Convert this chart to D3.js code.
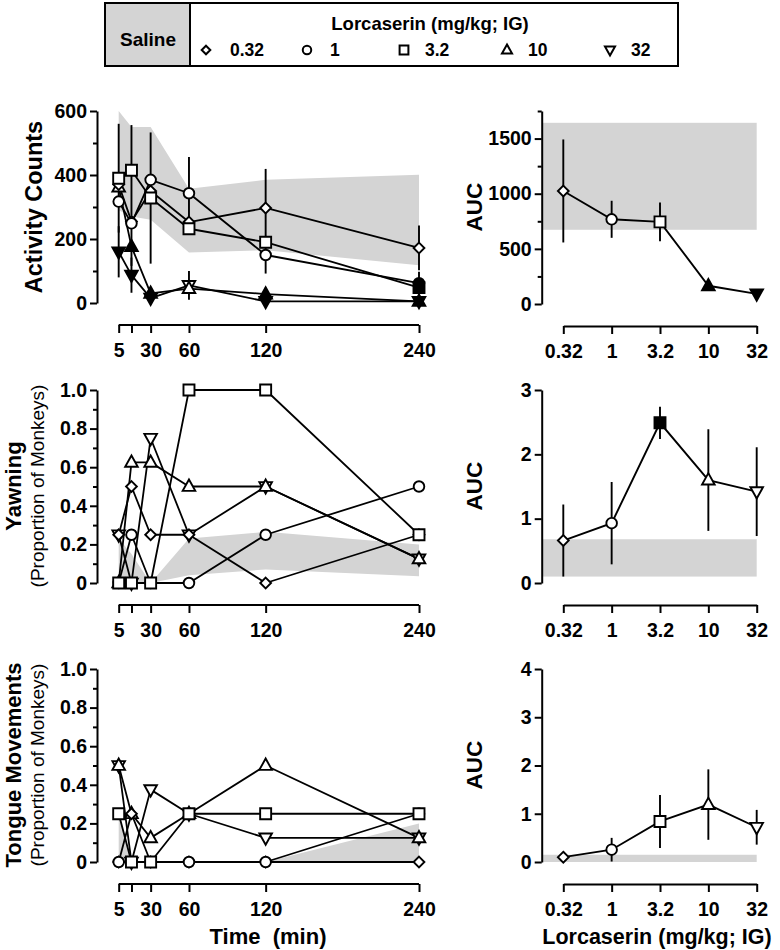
<!DOCTYPE html>
<html><head><meta charset="utf-8">
<script src="https://cdn.jsdelivr.net/npm/d3@7"></script>
<style>body{margin:0;background:#fff} svg{display:block}</style>
</head><body><svg id="c" width="780" height="950"></svg>
<script>
// ---------- DATA ----------
const times = [5, 15, 30, 60, 120, 240];
const timeTickLabels = ["5", "", "30", "60", "120", "240"];
const doses = ["0.32", "1", "3.2", "10", "32"];
const doseShapes = ["diamond", "circle", "square", "triangle", "triangleDown"];

// Activity counts (time course), per dose
const act_0_32 = [370, 255, 350, 253, 297, 172];
const act_1    = [317, 249, 385, 343, 150, 62];
const act_3_2  = [390, 415, 328, 232, 190, 48];
const act_10   = [362, 176, 30, 45, 28, 5];
const act_32   = [160, 87, 15, 55, 5, 5];
const actErr_0_32 = [0, 0, 0, 0, 122, 70];
const actErr_1    = [0, 0, 0, 113, 58, 0];
const actErr_3_2  = [170, 141, 205, 0, 0, 50];
const actErr_10   = [0, 60, 0, 0, 20, 0];
const actErr_32   = [80, 55, 0, 45, 0, 0];
const actFill_0_32 = [0, 0, 0, 0, 0, 0];
const actFill_1    = [0, 0, 0, 0, 0, 1];
const actFill_3_2  = [0, 0, 0, 0, 0, 1];
const actFill_10   = [0, 1, 1, 0, 1, 1];
const actFill_32   = [1, 1, 1, 0, 1, 1];
const salineActUpper = [600, 550, 550, 357, 385, 401];
const salineActLower = [290, 270, 260, 158, 165, 118];

// Yawning (proportion of monkeys)
const yawn_0_32 = [0.25, 0.5, 0.25, 0.25, 0, 0.25];
const yawn_1    = [0, 0.25, 0, 0, 0.25, 0.5];
const yawn_3_2  = [0, 0, 0, 1, 1, 0.25];
const yawn_10   = [0, 0.625, 0.625, 0.5, 0.5, 0.125];
const yawn_32   = [0.25, 0, 0.75, 0.25, 0.5, 0.125];
const salineYawnUpper = [0.23, 0.15, 0, 0.23, 0.265, 0.2];
const salineYawnLower = [0, 0, 0, 0.04, 0.07, 0.035];

// Tongue movements (proportion of monkeys)
const tong_0_32 = [0, 0.25, 0, 0, 0, 0];
const tong_1    = [0, 0, 0, 0, 0, 0.25];
const tong_3_2  = [0.25, 0, 0, 0.25, 0.25, 0.25];
const tong_10   = [0.5, 0.25, 0.125, 0.25, 0.5, 0.125];
const tong_32   = [0.5, 0, 0.375, 0.25, 0.125, 0.125];
const salineTongUpper = [0.26, 0, 0, 0, 0, 0.2];
const salineTongLower = [0.02, 0, 0, 0, 0, 0];

// AUC (dose-response)
const aucAct      = [1025, 768, 745, 165, 92];
const aucActErr   = [467, 168, 176, 45, 0];
const aucActFill  = [0, 0, 0, 1, 1];
const salineAucAct = [673, 1643];

const aucYawn     = [0.66, 0.93, 2.49, 1.6, 1.42];
const aucYawnErr  = [0.56, 0.64, 0.25, 0.79, 0.69];
const aucYawnFill = [0, 0, 1, 0, 0];
const salineAucYawn = [0.1, 0.68];

const aucTong     = [0.1, 0.255, 0.84, 1.19, 0.72];
const aucTongErr  = [0, 0.245, 0.55, 0.73, 0.36];
const aucTongFill = [0, 0, 0, 0, 0];
const salineAucTong = [0, 0.15];

// ---------- DRAWING ----------
const FONT = '"Liberation Sans", Arial, Helvetica, sans-serif';
const GRAY = "#d4d4d4";
const svg = d3.select("#c").style("font-family", FONT);

function markerPath(shape, k) {
  k = k || 1;
  if (shape === "circle") { const r = 5.3 * k; return `M${-r},0a${r},${r} 0 1,0 ${2*r},0a${r},${r} 0 1,0 ${-2*r},0Z`; }
  if (shape === "square") { const h = 5.5 * k; return `M${-h},${-h}H${h}V${h}H${-h}Z`; }
  if (shape === "diamond") { const d = 5.4 * k; return `M0,${-d}L${d},0L0,${d}L${-d},0Z`; }
  if (shape === "triangle") { const t = 6.3 * k; return `M0,${-t*1.1}L${t},${t*0.7}L${-t},${t*0.7}Z`; }
  if (shape === "triangleDown") { const t = 6.3 * k; return `M0,${t*1.1}L${t},${-t*0.7}L${-t},${-t*0.7}Z`; }
}

const leftAxisX = 97, rightAxisX = 541.7;
const xTime = d3.scaleLinear([0, 240], [112.3, 419]);
const xDose = d3.scalePoint(doses, [563.3, 756.7]);

function styleAxis(g, fs) {
  g.selectAll("path.domain").attr("stroke", "#000").attr("stroke-width", 2);
  g.selectAll(".tick line").attr("stroke", "#000").attr("stroke-width", 2);
  g.selectAll(".tick text").attr("fill", "#000").attr("font-size", fs || 19.5)
    .attr("font-weight", "bold").attr("font-family", FONT);
  g.attr("font-family", FONT);
}

function yAxes(x, y, majors, minors, fmt) {
  const g = svg.append("g").attr("transform", `translate(${x},0)`)
    .call(d3.axisLeft(y).tickValues(majors).tickSize(7).tickSizeOuter(0).tickPadding(3).tickFormat(fmt));
  styleAxis(g);
  if (minors && minors.length) {
    const gm = svg.append("g").attr("transform", `translate(${x},0)`)
      .call(d3.axisLeft(y).tickValues(minors).tickSize(4).tickSizeOuter(0).tickFormat(""));
    gm.select("path.domain").remove();
    styleAxis(gm);
  }
}

function drawLeft(cfg) {
  const y = cfg.y;
  const bottom = y.range()[0];
  const band = times.map((t, i) => ({ t, lo: cfg.lower[i], hi: cfg.upper[i] }));
  svg.append("path").datum(band).attr("fill", GRAY)
    .attr("d", d3.area().x(d => xTime(d.t)).y0(d => y(d.lo)).y1(d => y(d.hi)));
  yAxes(leftAxisX, y, cfg.majors, cfg.minors, cfg.fmt);
  const axY = bottom + 22;
  const gx = svg.append("g").attr("transform", `translate(0,${axY})`)
    .call(d3.axisBottom(xTime).tickValues(times).tickSize(8).tickSizeOuter(0).tickPadding(10)
      .tickFormat((d, i) => timeTickLabels[i]));
  gx.select("path.domain").remove();
  styleAxis(gx);
  gx.append("line").attr("x1", xTime(times[0])).attr("x2", xTime(times[times.length - 1]))
    .attr("y1", 0).attr("y2", 0).attr("stroke", "#000").attr("stroke-width", 2);

  const series = cfg.series.map((vals, si) => ({
    shape: doseShapes[si],
    pts: times.map((t, i) => ({ t, v: vals[i], e: cfg.errs ? cfg.errs[si][i] : 0, f: cfg.fills ? cfg.fills[si][i] : 0 }))
  }));
  const line = d3.line().x(d => xTime(d.t)).y(d => y(d.v));
  series.forEach(s => {
    svg.append("path").datum(s.pts).attr("fill", "none").attr("stroke", "#000")
      .attr("stroke-width", 1.8).attr("stroke-linejoin", "round").attr("d", line);
  });
  series.forEach(s => {
    s.pts.filter(d => d.e > 0).forEach(d => {
      svg.append("line").attr("x1", xTime(d.t)).attr("x2", xTime(d.t))
        .attr("y1", y(Math.max(0, d.v - d.e))).attr("y2", y(d.v + d.e))
        .attr("stroke", "#000").attr("stroke-width", 1.9);
    });
  });
  const order = [4, 3, 0, 1, 2];
  order.forEach(si => {
    const s = series[si];
    svg.append("g").selectAll("path").data(s.pts).join("path")
      .attr("transform", d => `translate(${xTime(d.t)},${y(d.v)})`)
      .attr("d", markerPath(s.shape))
      .attr("fill", d => d.f ? "#000" : "#fff")
      .attr("stroke", "#000").attr("stroke-width", 1.9).attr("stroke-linejoin", "miter");
  });
}

function drawRight(cfg) {
  const y = cfg.y;
  const bottom = y.range()[0];
  svg.append("rect").attr("x", rightAxisX + 1).attr("width", xDose("32") - rightAxisX - 1)
    .attr("y", y(cfg.band[1])).attr("height", y(cfg.band[0]) - y(cfg.band[1])).attr("fill", GRAY);
  yAxes(rightAxisX, y, cfg.majors, cfg.minors, cfg.fmt);
  const axY = bottom + 22;
  const gx = svg.append("g").attr("transform", `translate(0,${axY})`)
    .call(d3.axisBottom(xDose).tickSize(8).tickSizeOuter(0).tickPadding(10));
  styleAxis(gx);
  const pts = doses.map((d, i) => ({ d, v: cfg.vals[i], e: cfg.errs[i], f: cfg.fills[i], shape: doseShapes[i] }));
  svg.append("path").datum(pts).attr("fill", "none").attr("stroke", "#000").attr("stroke-width", 1.9)
    .attr("d", d3.line().x(d => xDose(d.d)).y(d => y(d.v)));
  pts.filter(d => d.e > 0).forEach(d => {
    svg.append("line").attr("x1", xDose(d.d)).attr("x2", xDose(d.d))
      .attr("y1", y(Math.max(0, d.v - d.e))).attr("y2", y(d.v + d.e))
      .attr("stroke", "#000").attr("stroke-width", 1.9);
  });
  svg.append("g").selectAll("path").data(pts).join("path")
    .attr("transform", d => `translate(${xDose(d.d)},${y(d.v)})`)
    .attr("d", d => markerPath(d.shape))
    .attr("fill", d => d.f ? "#000" : "#fff")
    .attr("stroke", "#000").attr("stroke-width", 1.9);
}

const fmtInt = d3.format("d");
const fmtProp = d => d === 0 ? "0" : d3.format(".1f")(d);

drawLeft({ y: d3.scaleLinear([0, 600], [303, 111]), majors: [0, 200, 400, 600], minors: [100, 300, 500], fmt: fmtInt,
  series: [act_0_32, act_1, act_3_2, act_10, act_32],
  errs: [actErr_0_32, actErr_1, actErr_3_2, actErr_10, actErr_32],
  fills: [actFill_0_32, actFill_1, actFill_3_2, actFill_10, actFill_32],
  upper: salineActUpper, lower: salineActLower });
drawLeft({ y: d3.scaleLinear([0, 1], [583, 390]), majors: [0, 0.2, 0.4, 0.6, 0.8, 1.0], minors: [0.1, 0.3, 0.5, 0.7, 0.9], fmt: fmtProp,
  series: [yawn_0_32, yawn_1, yawn_3_2, yawn_10, yawn_32],
  upper: salineYawnUpper, lower: salineYawnLower });
drawLeft({ y: d3.scaleLinear([0, 1], [862, 669]), majors: [0, 0.2, 0.4, 0.6, 0.8, 1.0], minors: [0.1, 0.3, 0.5, 0.7, 0.9], fmt: fmtProp,
  series: [tong_0_32, tong_1, tong_3_2, tong_10, tong_32],
  upper: salineTongUpper, lower: salineTongLower });

drawRight({ y: d3.scaleLinear([0, 1750], [304, 111]), majors: [0, 500, 1000, 1500], minors: [250, 750, 1250, 1750], fmt: fmtInt,
  vals: aucAct, errs: aucActErr, fills: aucActFill, band: salineAucAct });
drawRight({ y: d3.scaleLinear([0, 3], [583, 390]), majors: [0, 1, 2, 3], minors: [], fmt: fmtInt,
  vals: aucYawn, errs: aucYawnErr, fills: aucYawnFill, band: salineAucYawn });
drawRight({ y: d3.scaleLinear([0, 4], [862, 669]), majors: [0, 1, 2, 3, 4], minors: [], fmt: fmtInt,
  vals: aucTong, errs: aucTongErr, fills: aucTongFill, band: salineAucTong });

function vText(x, y, txt, size, weight) {
  svg.append("text").attr("transform", `translate(${x},${y}) rotate(-90)`).attr("text-anchor", "middle")
    .attr("font-size", size).attr("font-weight", weight).attr("fill", "#000").text(txt);
}
vText(42, 207, "Activity Counts", 23.5, "bold");
vText(21, 486, "Yawning", 22, "bold");
vText(44, 486, "(Proportion of Monkeys)", 19, "normal");
vText(21, 765, "Tongue Movements", 22, "bold");
vText(44, 765, "(Proportion of Monkeys)", 19, "normal");
vText(481.5, 207, "AUC", 22.5, "bold");
vText(481.5, 486, "AUC", 22.5, "bold");
vText(481.5, 765, "AUC", 22.5, "bold");

svg.append("text").attr("x", 268).attr("y", 944).attr("text-anchor", "middle").attr("font-size", 22)
  .attr("font-weight", "bold").style("white-space", "pre").attr("xml:space", "preserve").text("Time  (min)");
svg.append("text").attr("x", 657).attr("y", 944).attr("text-anchor", "middle").attr("font-size", 21.5)
  .attr("font-weight", "bold").text("Lorcaserin (mg/kg; IG)");

// Legend
const leg = svg.append("g");
leg.append("rect").attr("x", 105).attr("y", 3).attr("width", 85).attr("height", 63).attr("fill", GRAY);
leg.append("rect").attr("x", 105).attr("y", 3).attr("width", 573).attr("height", 63)
  .attr("fill", "none").attr("stroke", "#000").attr("stroke-width", 2);
leg.append("line").attr("x1", 190).attr("x2", 190).attr("y1", 3).attr("y2", 66).attr("stroke", "#000").attr("stroke-width", 2);
leg.append("text").attr("x", 148).attr("y", 46).attr("text-anchor", "middle").attr("font-size", 19)
  .attr("font-weight", "bold").text("Saline");
leg.append("text").attr("x", 430).attr("y", 30).attr("text-anchor", "middle").attr("font-size", 18.5)
  .attr("font-weight", "bold").text("Lorcaserin (mg/kg; IG)");
const legMarkX = [206, 307, 404, 507, 610];
const legTextX = [230, 330, 425, 528, 631];
doses.forEach((d, i) => {
  leg.append("path").attr("transform", `translate(${legMarkX[i]},50)`).attr("d", markerPath(doseShapes[i], 0.8))
    .attr("fill", "#fff").attr("stroke", "#000").attr("stroke-width", 2);
  leg.append("text").attr("x", legTextX[i]).attr("y", 56).attr("font-size", 17.5).attr("font-weight", "bold").text(d);
});
</script></body></html>
